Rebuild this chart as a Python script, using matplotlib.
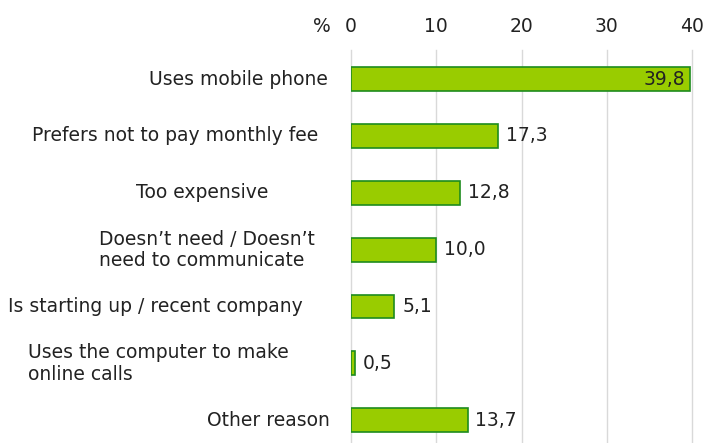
import matplotlib.pyplot as plt

# reasons and shares (%)
reasons = [
    "Uses mobile phone",
    "Prefers not to pay monthly fee",
    "Too expensive",
    "Doesn\u2019t need / Doesn\u2019t\nneed to communicate",
    "Is starting up / recent company",
    "Uses the computer to make\nonline calls",
    "Other reason",
]
shares = [39.8, 17.3, 12.8, 10.0, 5.1, 0.5, 13.7]
ticks = [0, 10, 20, 30, 40]

# label anchors in figure pixels (x, alignment)
label_pos = [(328, "right"), (318, "right"), (268, "right"),
             (99, "left"), (8, "left"), (28, "left"), (330, "right")]

FS = 13.5
W, H = 706, 443
fig = plt.figure(figsize=(W / 100, H / 100), dpi=100)
ax = fig.add_axes([351 / W, 0, (692 - 351) / W, (443 - 50) / H])

ypos = list(range(len(reasons)))
ax.barh(ypos, shares, height=0.42, color="#99CC00", edgecolor="#1E8C1E", linewidth=1.2, zorder=3)
ax.set_xlim(0, 40)
ax.set_ylim(6.4, -0.51)

ax.set_xticks(ticks)
ax.xaxis.tick_top()
ax.tick_params(axis="x", length=0, pad=10, labelsize=FS, colors="#222222")
ax.set_yticks([])
ax.grid(axis="x", color="#D9D9D9", linewidth=1, zorder=0)
for gl in ax.get_xgridlines():
    gl.set_clip_on(False)
for s in ax.spines.values():
    s.set_visible(False)

fig.text(322 / W, 1 - 32 / H, "%", ha="center", va="baseline", fontsize=FS, color="#222222")

for y, v, lab, (lx, ha) in zip(ypos, shares, reasons, label_pos):
    txt = f"{v:.1f}".replace(".", ",")
    if v > 35:
        ax.text(v - 0.6, y, txt, ha="right", va="center", fontsize=FS, color="#222222", zorder=4)
    else:
        ax.text(v + 0.9, y, txt, ha="left", va="center", fontsize=FS, color="#222222", zorder=4)
    # reason label, placed in figure pixel coords
    fy = ax.transData.transform((0, y))[1]
    fig.text(lx / W, fy / H, lab, ha=ha, va="center", fontsize=FS, color="#222222",
             multialignment="left", linespacing=1.15)

fig.savefig("out.png", dpi=100)
